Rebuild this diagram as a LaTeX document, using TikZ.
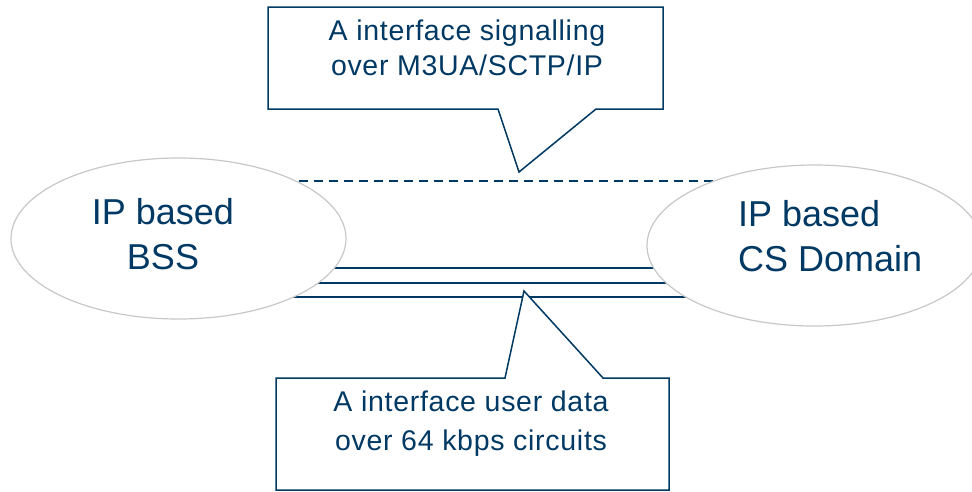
\documentclass[tikz,border=0pt]{standalone}
\usepackage{fontspec}
\setmainfont{Liberation Sans}
\newfontfamily\calloutfont[LetterSpace=2.5]{Liberation Sans}
\usetikzlibrary{shapes.geometric,backgrounds}
\definecolor{navy}{RGB}{0,57,99}
\definecolor{ellgray}{RGB}{200,200,200}
\begin{document}
\begin{tikzpicture}[x=1pt,y=-1pt,
  domainnode/.style={ellipse, draw=ellgray, line width=1.2pt, fill=white,
    minimum width=335pt, minimum height=161pt, inner sep=0pt},
  bigleft/.style={anchor=base west, inner sep=0pt, text=navy,
    font=\fontsize{36}{45}\selectfont},
  bigmid/.style={anchor=base, inner sep=0pt, text=navy,
    font=\fontsize{36}{45}\selectfont},
  calltext/.style={anchor=base, inner sep=0pt, text=navy,
    font=\calloutfont\fontsize{28.5}{35}\selectfont},
  callout/.style={draw=navy, line width=1.5pt, fill=white, line join=miter},
  link/.style={draw=navy, line width=1.8pt},
  siglink/.style={draw=navy, line width=1.2pt, dash pattern=on 9pt off 6pt}]
\useasboundingbox (0,0) rectangle (972,491);
\clip (0,0) rectangle (972,491);

% domains
\node[domainnode] (bss) at (178.5,238.5) {};
\node[domainnode] (cs) at (814.5,245.5) {};

\node[bigmid] (bss1) at (163,224) {IP based};
\node[bigmid] (bss2) at (163,269) {BSS};
\node[bigleft] (cs1) at (738,226) {IP based};
\node[bigleft] (cs2) at (738,271) {CS Domain};

% interface lines behind the domains
\coordinate (ysig) at (0,181);
\coordinate (ya) at (0,268);
\coordinate (yb) at (0,283);
\coordinate (yc) at (0,297);
\begin{scope}[on background layer]
  \fill[white] (0,0) rectangle (972,491);
  \draw[siglink] (bss.center |- ysig) -- (cs.center |- ysig);
  \draw[link] (bss.center |- ya) -- (cs.center |- ya);
  \draw[link] (bss.center |- yb) -- (cs.center |- yb);
  \draw[link] (bss.center |- yc) -- (cs.center |- yc);
\end{scope}

% top callout
\coordinate (t1) at (268,7);
\coordinate (t2) at (663,7);
\coordinate (t3) at (663,109);
\coordinate (t4) at (596,109);
\coordinate (ttip) at (519,172);
\coordinate (t5) at (498,109);
\coordinate (t6) at (268,109);
\path[callout] (t1) -- (t2) -- (t3) -- (t4) -- (ttip) -- (t5) -- (t6) -- cycle;
\node[calltext] (top1) at (467,40) {A interface signalling};
\node[calltext] (top2) at (467,75) {over M3UA/SCTP/IP};

% bottom callout
\coordinate (b1) at (276,378);
\coordinate (b2) at (505,378);
\coordinate (btip) at (524,291);
\coordinate (b3) at (603,378);
\coordinate (b4) at (669,378);
\coordinate (b5) at (669,490);
\coordinate (b6) at (276,490);
\path[callout] (b1) -- (b2) -- (btip) -- (b3) -- (b4) -- (b5) -- (b6) -- cycle;
\node[calltext] (bot1) at (471,411) {A interface user data};
\node[calltext] (bot2) at (471,450) {over 64 kbps circuits};
\end{tikzpicture}
\end{document}
